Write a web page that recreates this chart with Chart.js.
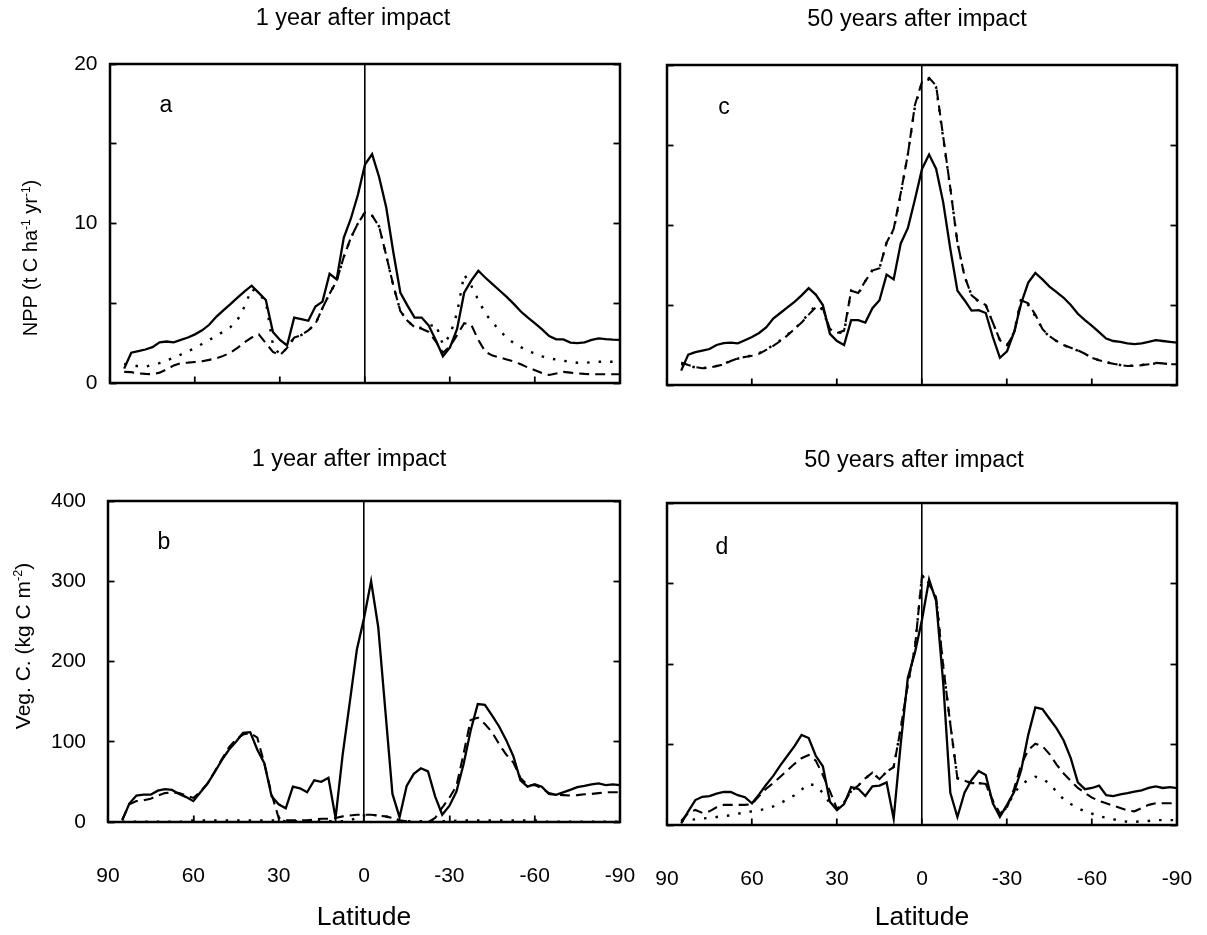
<!DOCTYPE html>
<html>
<head>
<meta charset="utf-8">
<script src="https://cdn.jsdelivr.net/npm/chart.js@4.4.1/dist/chart.umd.min.js"></script>
<style>
  body { margin: 0; background: #fff; width: 1207px; height: 935px; position: relative; overflow: hidden;
         font-family: "Liberation Sans", Arial, sans-serif; color: #000; }
  canvas { position: absolute; }
  .txt { position: absolute; line-height: 1; white-space: nowrap; transform: translateX(-50%); }
  .ytitle { position: absolute; line-height: 1; white-space: nowrap; transform: translate(-50%, -50%) rotate(-90deg); }
  .ytitle sup { font-size: 0.6em; line-height: 0; vertical-align: 0; position: relative; top: -0.6em; }
</style>
</head>
<body>
<canvas id="chartA" width="640" height="420" style="left:0;top:0"></canvas>
<canvas id="chartC" width="567" height="420" style="left:640px;top:0"></canvas>
<canvas id="chartB" width="640" height="495" style="left:0;top:440px"></canvas>
<canvas id="chartD" width="567" height="495" style="left:640px;top:440px"></canvas>

<div class="txt" style="left:353px;top:6px;font-size:23.5px">1 year after impact</div>
<div class="txt" style="left:917px;top:7px;font-size:23.5px">50 years after impact</div>
<div class="txt" style="left:349px;top:447px;font-size:23.5px">1 year after impact</div>
<div class="txt" style="left:914px;top:448px;font-size:23.5px">50 years after impact</div>

<div class="txt" style="left:166px;top:93px;font-size:23px">a</div>
<div class="txt" style="left:724px;top:95px;font-size:23px">c</div>
<div class="txt" style="left:164px;top:530px;font-size:23px">b</div>
<div class="txt" style="left:722px;top:535px;font-size:23px">d</div>

<div class="ytitle" style="left:30px;top:258px;font-size:20px">NPP (t C ha<sup>-1</sup> yr<sup>-1</sup>)</div>
<div class="ytitle" style="left:22px;top:646px;font-size:21px">Veg. C. (kg C m<sup>-2</sup>)</div>

<script>
// latitude grid shared by every series (north to south)
const latitude = [85, 82.5, 80, 77.5, 75, 72.5, 70, 67.5, 65, 62.5,
  60, 57.5, 55, 52.5, 50, 47.5, 45, 42.5, 40, 37.5,
  35, 32.5, 30, 27.5, 25, 22.5, 20, 17.5, 15, 12.5,
  10, 7.5, 5, 2.5, 0, -2.5, -5, -7.5, -10, -12.5,
  -15, -17.5, -20, -22.5, -25, -27.5, -30, -32.5, -35, -37.5,
  -40, -42.5, -45, -47.5, -50, -52.5, -55, -57.5, -60, -62.5,
  -65, -67.5, -70, -72.5, -75, -77.5, -80, -82.5, -85, -87.5,
  -90];

const latTicks = [90, 60, 30, 0, -30, -60, -90];
const nppTicks = [0, 5, 10, 15, 20];
const nppLabels = [0, 10, 20];
const vegTicks = [0, 100, 200, 300, 400];

// panel a: NPP, 1 year after impact
const nppSolidA = [0.9, 1.9, 2.0, 2.1, 2.25, 2.55, 2.6, 2.55, 2.7, 2.85,
  3.05, 3.3, 3.65, 4.15, 4.55, 4.95, 5.35, 5.75, 6.1, 5.65,
  5.2, 3.2, 2.7, 2.35, 4.1, 4.0, 3.9, 4.8, 5.1, 6.85,
  6.5, 9.1, 10.3, 11.8, 13.7, 14.35, 12.9, 11.0, 8.2, 5.65,
  4.85, 4.1, 4.1, 3.6, 2.68, 1.68, 2.23, 3.39, 5.66, 6.42,
  7.04, 6.6, 6.2, 5.8, 5.4, 4.96, 4.48, 4.1, 3.74, 3.36,
  2.94, 2.74, 2.73, 2.53, 2.5, 2.55, 2.7, 2.8, 2.75, 2.72,
  2.7];
const nppDottedA = [1.2, 1.12, 1.05, 1.02, 1.15, 1.25, 1.42, 1.58, 1.78, 1.98,
  2.2, 2.45, 2.7, 2.95, 3.22, 3.5, 3.95, 4.8, 5.9, 5.6,
  5.1, 2.4, 1.75, 2.2, 2.85, 3.0, 3.3, 3.7, 4.7, 5.6,
  6.4, 7.9, 9.1, 10.0, 10.7, 10.5, 9.8, 8.0, 6.1, 4.5,
  3.9, 3.5, 3.45, 3.55, 3.7, 2.4, 3.0, 4.4, 6.8, 6.1,
  5.2, 4.35, 3.8, 3.3, 2.85, 2.5, 2.25, 2.0, 1.85, 1.67,
  1.55, 1.47, 1.4, 1.33, 1.27, 1.27, 1.3, 1.33, 1.33, 1.33,
  1.33];
const nppDashedA = [0.7, 0.68, 0.6, 0.57, 0.55, 0.65, 0.85, 1.1, 1.25, 1.28,
  1.32, 1.36, 1.45, 1.55, 1.7, 1.9, 2.2, 2.55, 2.85, 3.05,
  2.5, 1.95, 1.75, 2.2, 2.85, 3.0, 3.3, 3.7, 4.7, 5.6,
  6.4, 7.9, 9.1, 10.0, 10.7, 10.5, 9.8, 8.0, 6.1, 4.5,
  3.9, 3.5, 3.4, 3.2, 2.6, 1.9, 2.3, 3.0, 3.75, 3.65,
  2.7, 1.95, 1.72, 1.6, 1.48, 1.35, 1.17, 0.97, 0.8, 0.62,
  0.5, 0.6, 0.7, 0.65, 0.6, 0.57, 0.55, 0.55, 0.55, 0.55,
  0.55];

// panel c: NPP, 50 years after impact
const nppSolidC = [0.9, 1.9, 2.05, 2.15, 2.25, 2.5, 2.62, 2.65, 2.6, 2.8,
  3.0, 3.25, 3.6, 4.15, 4.5, 4.85, 5.2, 5.6, 6.05, 5.65,
  5.0, 3.2, 2.75, 2.5, 4.05, 4.05, 3.9, 4.8, 5.3, 6.9,
  6.6, 8.85, 9.8, 11.6, 13.5, 14.4, 13.5, 11.4, 8.5, 5.9,
  5.3, 4.65, 4.68, 4.5, 3.0, 1.7, 2.1, 3.3, 5.1, 6.4,
  7.0, 6.6, 6.15, 5.8, 5.45, 5.0, 4.45, 4.05, 3.7, 3.3,
  2.9, 2.75, 2.7, 2.6, 2.55, 2.6, 2.7, 2.8, 2.75, 2.7,
  2.65];
const nppDottedC = [1.3, 1.2, 1.1, 1.05, 1.1, 1.2, 1.32, 1.5, 1.65, 1.75,
  1.85, 2.0, 2.2, 2.5, 2.8, 3.15, 3.5, 3.95, 4.45, 5.0,
  4.7, 3.4, 3.25, 3.3, 5.9, 5.7, 6.5, 7.2, 7.3, 8.9,
  9.7, 11.9, 14.4, 17.4, 18.9, 19.1, 18.6, 15.4, 12.3, 8.9,
  6.8, 5.6, 5.2, 5.0, 3.9, 2.8, 2.5, 3.3, 5.4, 5.0,
  4.3, 3.5, 3.0, 2.75, 2.5, 2.3, 2.15, 1.95, 1.7, 1.55,
  1.42, 1.33, 1.25, 1.2, 1.2, 1.25, 1.3, 1.35, 1.35, 1.3,
  1.3];
const nppDashedC = [1.4, 1.25, 1.12, 1.05, 1.08, 1.18, 1.3, 1.5, 1.67, 1.75,
  1.83, 1.95, 2.2, 2.45, 2.75, 3.1, 3.5, 3.9, 4.4, 4.85,
  4.8, 3.5, 3.25, 3.4, 5.9, 5.75, 6.5, 7.15, 7.3, 8.9,
  9.75, 12.0, 14.4, 17.5, 18.95, 19.2, 18.7, 15.5, 12.3, 8.9,
  6.8, 5.6, 5.25, 5.0, 3.9, 2.8, 2.5, 3.2, 5.3, 5.1,
  4.4, 3.5, 3.05, 2.75, 2.5, 2.33, 2.17, 1.95, 1.7, 1.55,
  1.42, 1.33, 1.25, 1.19, 1.2, 1.24, 1.3, 1.38, 1.35, 1.3,
  1.3];

// panel b: vegetation carbon, 1 year after impact
const vegSolidB = [2, 23, 33, 34, 34, 39, 41, 40, 35, 31,
  26, 37, 48, 62, 77, 90, 100, 111, 112, 90,
  73, 32, 22, 17, 44, 42, 37, 52, 50, 55,
  5, 84, 149, 215, 254, 300, 243, 139, 35, 6,
  45, 60, 67, 63, 32, 9, 20, 38, 72, 114,
  147, 146, 133, 119, 102, 82, 52, 44, 47, 44,
  35, 34, 37, 40, 43.5, 45, 47, 48, 46, 47,
  46];
const vegDashedB = [3, 22, 26, 27, 29, 33, 36, 37, 36, 33,
  30, 38, 48, 63, 78, 93, 103, 109, 111, 105,
  72, 35, 5, 2, 2, 2, 2, 3, 4, 4,
  5, 7, 8, 9, 9, 9, 8, 7, 5, 2,
  1, 0, 0, 0, 5, 18, 30, 45, 85, 127,
  130, 122, 112, 97, 84, 74, 55, 46, 46, 42,
  36, 34, 33.5, 33, 33.5, 34.5, 35, 36, 37, 37,
  37];
const vegDottedB = [0.5, 0.5, 0.5, 0.5, 0.5, 0.5, 0.5, 0.5, 0.5, 0.5,
  2, 2, 2, 2, 2, 2, 2, 2, 2, 2,
  2, 2, 1.5, 1, 1, 1, 1, 1, 1, 1,
  1, 1, 2, 5, 8, 9, 8, 7, 5, 2,
  1, 1, 1, 1, 1, 1, 1, 1.5, 2, 2,
  2, 2, 2, 2, 2, 2, 2, 2, 2, 0.5,
  0.5, 0.5, 0.5, 0.5, 0.5, 0.5, 0.5, 0.5, 0.5, 0.5,
  0.5];

// panel d: vegetation carbon, 50 years after impact
const vegSolidD = [2, 17, 31, 35, 36, 39, 41, 41, 37, 34.5,
  27, 38, 50, 61, 74, 86, 98, 112, 108, 86,
  73, 29, 18.5, 26, 47, 45, 36, 48, 49, 53,
  8, 101, 183, 214, 255, 305, 278, 176, 40, 10,
  40, 56, 67, 62, 27, 10, 25, 41, 68, 112,
  146, 144, 132, 120, 105, 83, 53, 44.5, 46, 49,
  37, 36, 38, 39.5, 41.5, 43, 46, 48, 46, 47,
  45.7];
const vegDashedD = [5, 15, 18.7, 15, 17, 22, 25, 25, 25, 25,
  26, 36, 45, 52, 60, 68, 76, 83, 87, 80,
  62, 42, 20, 28, 42, 49, 58, 65, 57, 66,
  72, 120, 175, 220, 310, 300, 282, 197, 125, 58,
  55, 52, 52, 51, 30, 14, 22, 45, 75, 93,
  101, 98, 88, 75, 64, 55, 46, 40, 34, 30,
  27, 24, 21, 18, 17, 21, 25, 27, 27, 27,
  27];
const vegDottedD = [5, 6, 7, 8, 9, 10, 11, 12, 14, 15.5,
  17, 18.5, 20, 23, 27, 32, 37, 44, 51, 49,
  40, 27, 20, 28, 42, 49, 58, 65, 57, 66,
  72, 120, 175, 220, 310, 300, 282, 197, 125, 58,
  55, 52, 52, 51, 30, 14, 22, 40, 50, 56,
  60, 57, 52, 41, 32, 26, 21, 17, 14, 11,
  9, 7, 5.5, 4, 4, 4.5, 5, 6, 6, 6,
  6];

Chart.defaults.font.family = '"Liberation Sans", Arial, sans-serif';
Chart.defaults.color = '#000';

// box round the plot area
const framePlugin = {
  id: 'frame',
  afterDraw(chart) {
    const { ctx, chartArea: a } = chart;
    ctx.save();
    ctx.strokeStyle = '#000';
    ctx.lineWidth = 2.5;
    ctx.strokeRect(a.left, a.top, a.right - a.left, a.bottom - a.top);
    ctx.restore();
  }
};

function lineSet(values, dash, width) {
  return {
    data: latitude.map((lat, i) => ({ x: lat, y: values[i] })),
    borderColor: '#000',
    borderWidth: width,
    borderDash: dash,
    borderCapStyle: 'butt',
    pointRadius: 0,
    tension: 0,
    fill: false
  };
}

function buildPanel(id, p) {
  const setTicks = list => scale => { scale.ticks = list.map(v => ({ value: v })); };
  return new Chart(document.getElementById(id), {
    type: 'line',
    data: {
      datasets: [
        lineSet(p.dotted, [2.5, 9], 2.4),
        lineSet(p.dashed, [10, 6], 2.1),
        lineSet(p.solid, [], 2.3)
      ]
    },
    plugins: [framePlugin],
    options: {
      responsive: false,
      animation: false,
      events: [],
      layout: { padding: { left: 0, right: p.padRight, top: p.padTop, bottom: 0 } },
      plugins: { legend: { display: false }, tooltip: { enabled: false } },
      scales: {
        x: {
          type: 'linear', min: -90, max: 90, reverse: true,
          afterBuildTicks: setTicks(latTicks),
          // fixed box height, and no extra side room for the end labels
          afterFit: s => { s.height = p.xHeight; s.paddingLeft = 0; s.paddingRight = 0; },
          border: { display: false },
          grid: {
            color: c => (c.tick && c.tick.value === 0 ? '#000' : 'rgba(0,0,0,0)'),
            lineWidth: 1.6, tickColor: '#000', tickWidth: 1.8, tickLength: -6.5
          },
          ticks: {
            display: p.showX, padding: 48, maxRotation: 0, autoSkip: false,
            font: { size: 21 }, callback: v => String(v)
          },
          title: { display: p.showX, text: 'Latitude', font: { size: 26.5 }, padding: { top: 0, bottom: 1 } }
        },
        y: {
          min: 0, max: p.yMax,
          afterBuildTicks: setTicks(p.yTicks),
          afterFit: s => { s.width = p.yWidth; s.paddingTop = 0; s.paddingBottom = 0; },
          border: { display: false },
          grid: { drawOnChartArea: false, tickColor: '#000', tickWidth: 1.8, tickLength: -6.5 },
          ticks: {
            display: p.showY, padding: p.yPad, font: { size: 21 },
            callback: v => (p.yLabels.includes(v) ? String(v) : '')
          }
        },
        y2: {
          position: 'right', min: 0, max: p.yMax,
          afterBuildTicks: setTicks(p.yTicks),
          afterFit: s => { s.width = 0; },
          border: { display: false },
          grid: { drawOnChartArea: false, tickColor: '#000', tickWidth: 1.8, tickLength: -6.5 },
          ticks: { display: false }
        }
      }
    }
  });
}

buildPanel('chartA', {
  solid: nppSolidA, dotted: nppDottedA, dashed: nppDashedA,
  yMax: 20, yTicks: nppTicks, yLabels: nppLabels, showY: true, showX: false,
  yWidth: 110, yPad: 19, padTop: 64, padRight: 20, xHeight: 37
});
buildPanel('chartC', {
  solid: nppSolidC, dotted: nppDottedC, dashed: nppDashedC,
  yMax: 20, yTicks: nppTicks, yLabels: nppLabels, showY: false, showX: false,
  yWidth: 27, yPad: 19, padTop: 65, padRight: 30, xHeight: 35
});
buildPanel('chartB', {
  solid: vegSolidB, dotted: vegDottedB, dashed: vegDashedB,
  yMax: 400, yTicks: vegTicks, yLabels: vegTicks, showY: true, showX: true,
  yWidth: 108, yPad: 28.5, padTop: 61, padRight: 20, xHeight: 113
});
buildPanel('chartD', {
  solid: vegSolidD, dotted: vegDottedD, dashed: vegDashedD,
  yMax: 400, yTicks: vegTicks, yLabels: vegTicks, showY: false, showX: true,
  yWidth: 27, yPad: 28.5, padTop: 63, padRight: 30, xHeight: 110
});
</script>
</body>
</html>
